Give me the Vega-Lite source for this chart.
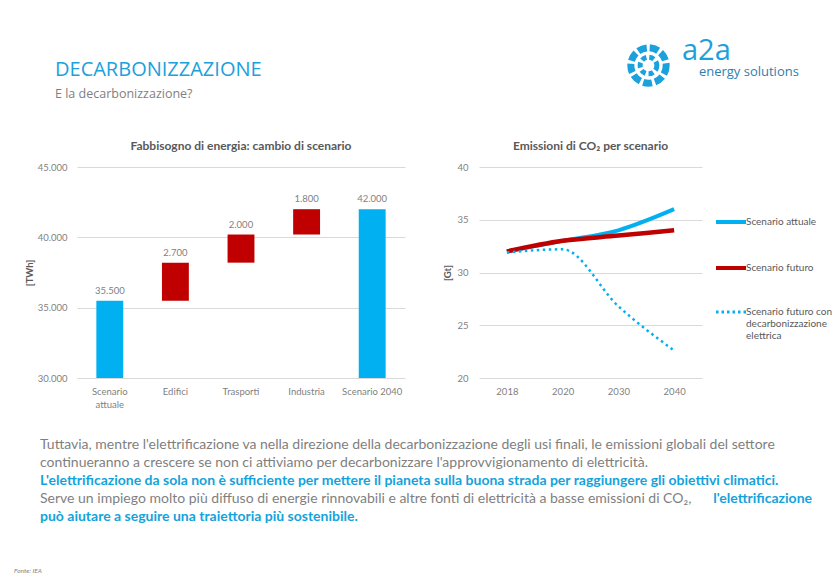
{
  "$schema": "https://vega.github.io/schema/vega-lite/v6.json",
  "background": "white",
  "padding": {"left": 14, "top": 33, "right": 0, "bottom": 0},
  "config": {
    "view": {"stroke": null},
    "font": "Lato",
    "locale": {"number": {"decimal": ",", "thousands": ".", "grouping": [3], "currency": ["€", ""]}},
    "axis": {"labelColor": "#7f7f7f", "labelFont": "Lato", "labelFontSize": 9.5, "titleColor": "#595959", "titleFont": "Lato", "titleFontSize": 9.5, "titleFontWeight": "bold", "gridColor": "#d9d9d9", "domain": false, "ticks": false},
    "title": {"font": "Lato", "color": "#595959", "fontWeight": "bold", "fontSize": 12}
  },
  "spacing": 38,
  "vconcat": [
    {
      "spacing": 1,
      "hconcat": [
        {
          "width": 538,
          "height": 60,
          "title": {"text": "DECARBONIZZAZIONE", "subtitle": "E la decarbonizzazione?", "anchor": "start", "dx": -22, "offset": -58, "font": "Open Sans", "fontSize": 20, "fontWeight": "normal", "color": "#1BA1DC", "subtitleFont": "Open Sans", "subtitleFontSize": 12.5, "subtitleColor": "#7f7f7f", "subtitlePadding": 8},
          "data": {"values": [{"t": ""}]},
          "mark": "text",
          "encoding": {"text": {"field": "t"}}
        },
        {
          "width": 47,
          "height": 47,
          "data": {"values": [{"logo": "a2a"}]},
          "layer": [
            {"mark": {"type": "point", "shape": "circle", "size": 1250, "filled": false, "stroke": "#1BA1DC", "strokeWidth": 7, "strokeDash": [9, 3], "opacity": 1}, "encoding": {}},
            {"mark": {"type": "point", "shape": "circle", "size": 280, "filled": false, "stroke": "#1BA1DC", "strokeWidth": 5, "strokeDash": [5, 3], "opacity": 1}, "encoding": {}}
          ]
        },
        {
          "width": 130,
          "height": 47,
          "title": {"text": "a2a", "subtitle": "\u200b\u00a0\u00a0\u00a0\u00a0\u00a0energy solutions", "anchor": "start", "dx": -10, "offset": -37, "font": "Open Sans", "fontSize": 29, "fontWeight": "normal", "color": "#1BA1DC", "subtitleFont": "Open Sans", "subtitleFontSize": 13, "subtitleColor": "#2C7FB0", "subtitlePadding": 0},
          "data": {"values": [{"t": ""}]},
          "mark": "text",
          "encoding": {"text": {"field": "t"}}
        }
      ]
    },
    {
      "spacing": 27,
      "vconcat": [
        {
          "spacing": 37,
          "resolve": {"scale": {"color": "independent"}, "legend": {"color": "independent"}},
          "hconcat": [
            {
              "width": 328,
              "height": 211,
              "title": {"text": "Fabbisogno di energia: cambio di scenario", "offset": 9},
              "data": {"values": [
                {"categoria": "Scenario attuale", "inizio": 0, "fine": 35500, "valore": 35500, "tipo": "totale"},
                {"categoria": "Edifici", "inizio": 35500, "fine": 38200, "valore": 2700, "tipo": "variazione"},
                {"categoria": "Trasporti", "inizio": 38200, "fine": 40200, "valore": 2000, "tipo": "variazione"},
                {"categoria": "Industria", "inizio": 40200, "fine": 42000, "valore": 1800, "tipo": "variazione"},
                {"categoria": "Scenario 2040", "inizio": 0, "fine": 42000, "valore": 42000, "tipo": "totale"}
              ]},
              "encoding": {
                "x": {"field": "categoria", "type": "nominal", "sort": null, "scale": {"paddingInner": 0.59, "paddingOuter": 0.295},
                  "axis": {"title": null, "labelAngle": 0, "labelPadding": 8, "labelFontSize": 9.5, "labelLineHeight": 13, "labelExpr": "datum.label == 'Scenario attuale' ? ['Scenario', 'attuale'] : datum.label"}}
              },
              "layer": [
                {
                  "mark": {"type": "bar", "clip": true},
                  "encoding": {
                    "y": {"field": "fine", "type": "quantitative", "scale": {"domain": [30000, 45000], "nice": false, "zero": false}, "axis": {"title": "[TWh]", "values": [30000, 35000, 40000, 45000], "format": ",.0f", "labelPadding": 10, "titlePadding": 3}},
                    "y2": {"field": "inizio"},
                    "color": {"field": "tipo", "type": "nominal", "scale": {"domain": ["totale", "variazione"], "range": ["#00B0F0", "#C00000"]}, "legend": null}
                  }
                },
                {
                  "mark": {"type": "text", "baseline": "bottom", "dy": -5, "color": "#7f7f7f", "fontSize": 9.5},
                  "encoding": {
                    "y": {"field": "fine", "type": "quantitative"},
                    "text": {"field": "valore", "type": "quantitative", "format": ",.0f"}
                  }
                }
              ]
            },
            {
              "width": 223,
              "height": 211,
              "title": {"text": "Emissioni di CO₂ per scenario", "offset": 9},
              "data": {"values": [
                {"scenario": "Scenario attuale", "anno": "2018", "emissioni": 32.0},
                {"scenario": "Scenario attuale", "anno": "2020", "emissioni": 33.0},
                {"scenario": "Scenario attuale", "anno": "2030", "emissioni": 34.0},
                {"scenario": "Scenario attuale", "anno": "2040", "emissioni": 36.0},
                {"scenario": "Scenario futuro", "anno": "2018", "emissioni": 32.0},
                {"scenario": "Scenario futuro", "anno": "2020", "emissioni": 33.0},
                {"scenario": "Scenario futuro", "anno": "2030", "emissioni": 33.5},
                {"scenario": "Scenario futuro", "anno": "2040", "emissioni": 34.0},
                {"scenario": "Scenario futuro con decarbonizzazione elettrica", "anno": "2018", "emissioni": 31.9},
                {"scenario": "Scenario futuro con decarbonizzazione elettrica", "anno": "2020", "emissioni": 32.2},
                {"scenario": "Scenario futuro con decarbonizzazione elettrica", "anno": "2030", "emissioni": 26.8},
                {"scenario": "Scenario futuro con decarbonizzazione elettrica", "anno": "2040", "emissioni": 22.6}
              ]},
              "encoding": {
                "x": {"field": "anno", "type": "ordinal", "scale": {"type": "point", "padding": 0.5}, "axis": {"title": null, "labelAngle": 0, "labelPadding": 8, "labelFontSize": 9.5}},
                "y": {"field": "emissioni", "type": "quantitative", "scale": {"domain": [20, 40], "nice": false}, "axis": {"title": "[Gt]", "values": [20, 25, 30, 35, 40], "labelPadding": 11, "titlePadding": 4}},
                "color": {"field": "scenario", "type": "nominal",
                  "scale": {"domain": ["Scenario attuale", "Scenario futuro", "Scenario futuro con decarbonizzazione elettrica"], "range": ["#00B0F0", "#C00000", "#00B0F0"]},
                  "legend": {"title": null, "orient": "none", "legendX": 247, "legendY": 50, "padding": 0, "symbolType": "stroke", "symbolSize": 900, "symbolStrokeWidth": 4, "labelFontSize": 10, "labelColor": "#595959", "labelOffset": 10, "rowPadding": 30, "labelLimit": 200, "labelLineHeight": 13,
                    "labelExpr": "datum.label == 'Scenario futuro con decarbonizzazione elettrica' ? ['Scenario futuro con', 'decarbonizzazione', 'elettrica'] : datum.label",
                    "encode": {"symbols": {"update": {
                      "stroke": {"signal": "datum.value == 'Scenario futuro' ? '#C00000' : '#00B0F0'"},
                      "fill": {"value": "transparent"},
                      "opacity": {"value": 1},
                      "strokeDash": {"signal": "datum.value == 'Scenario futuro con decarbonizzazione elettrica' ? [2.5, 3] : [1, 0]"},
                      "strokeWidth": {"signal": "datum.value == 'Scenario futuro con decarbonizzazione elettrica' ? 3 : 4"}
                    }}}}}
              },
              "layer": [
                {"transform": [{"filter": "datum.scenario == 'Scenario attuale'"}], "mark": {"type": "line", "interpolate": "monotone", "strokeWidth": 4}},
                {"transform": [{"filter": "datum.scenario == 'Scenario futuro'"}], "mark": {"type": "line", "interpolate": "monotone", "strokeWidth": 4.5}},
                {"transform": [{"filter": "datum.scenario == 'Scenario futuro con decarbonizzazione elettrica'"}], "mark": {"type": "line", "interpolate": "monotone", "strokeWidth": 2.5, "strokeDash": [2.5, 3.5]}}
              ]
            }
          ]
        },
        {
          "width": 735,
          "height": 90,
          "title": {"text": "Fonte: IEA", "orient": "bottom", "anchor": "start", "dx": -26, "fontSize": 6.5, "fontStyle": "italic", "fontWeight": "normal", "color": "#7f7f7f", "offset": 42},
          "data": {"values": [
            {"riga": 1, "parte": "testo", "testo": "Tuttavia, mentre l'elettrificazione va nella direzione della decarbonizzazione degli usi finali, le emissioni globali del settore"},
            {"riga": 2, "parte": "testo", "testo": "continueranno a crescere se non ci attiviamo per decarbonizzare l'approvvigionamento di elettricità."},
            {"riga": 3, "parte": "evidenza", "testo": "L'elettrificazione da sola non è sufficiente per mettere il pianeta sulla buona strada per raggiungere gli obiettivi climatici."},
            {"riga": 4, "parte": "testo", "testo": "Serve un impiego molto più diffuso di energie rinnovabili e altre fonti di elettricità a basse emissioni di CO₂,"},
            {"riga": 4, "parte": "evidenza finale", "testo": "l'elettrificazione"},
            {"riga": 5, "parte": "evidenza", "testo": "può aiutare a seguire una traiettoria più sostenibile."}
          ]},
          "encoding": {"y": {"field": "riga", "type": "ordinal", "axis": null}},
          "layer": [
            {"transform": [{"filter": "datum.parte == 'testo'"}], "mark": {"type": "text", "align": "left", "fontSize": 14, "color": "#7f7f7f"},
              "encoding": {"x": {"datum": 0, "type": "quantitative", "scale": {"domain": [0.0479, 1], "nice": false, "zero": false}, "axis": null}, "text": {"field": "testo"}}},
            {"transform": [{"filter": "datum.parte == 'evidenza'"}], "mark": {"type": "text", "align": "left", "fontSize": 14, "fontWeight": "bold", "color": "#13A3DC"},
              "encoding": {"x": {"datum": 0, "type": "quantitative", "axis": null}, "text": {"field": "testo"}}},
            {"transform": [{"filter": "datum.parte == 'evidenza finale'"}], "mark": {"type": "text", "align": "right", "fontSize": 14, "fontWeight": "bold", "color": "#13A3DC"},
              "encoding": {"x": {"datum": 1, "type": "quantitative", "axis": null}, "text": {"field": "testo"}}}
          ]
        }
      ]
    }
  ]
}
